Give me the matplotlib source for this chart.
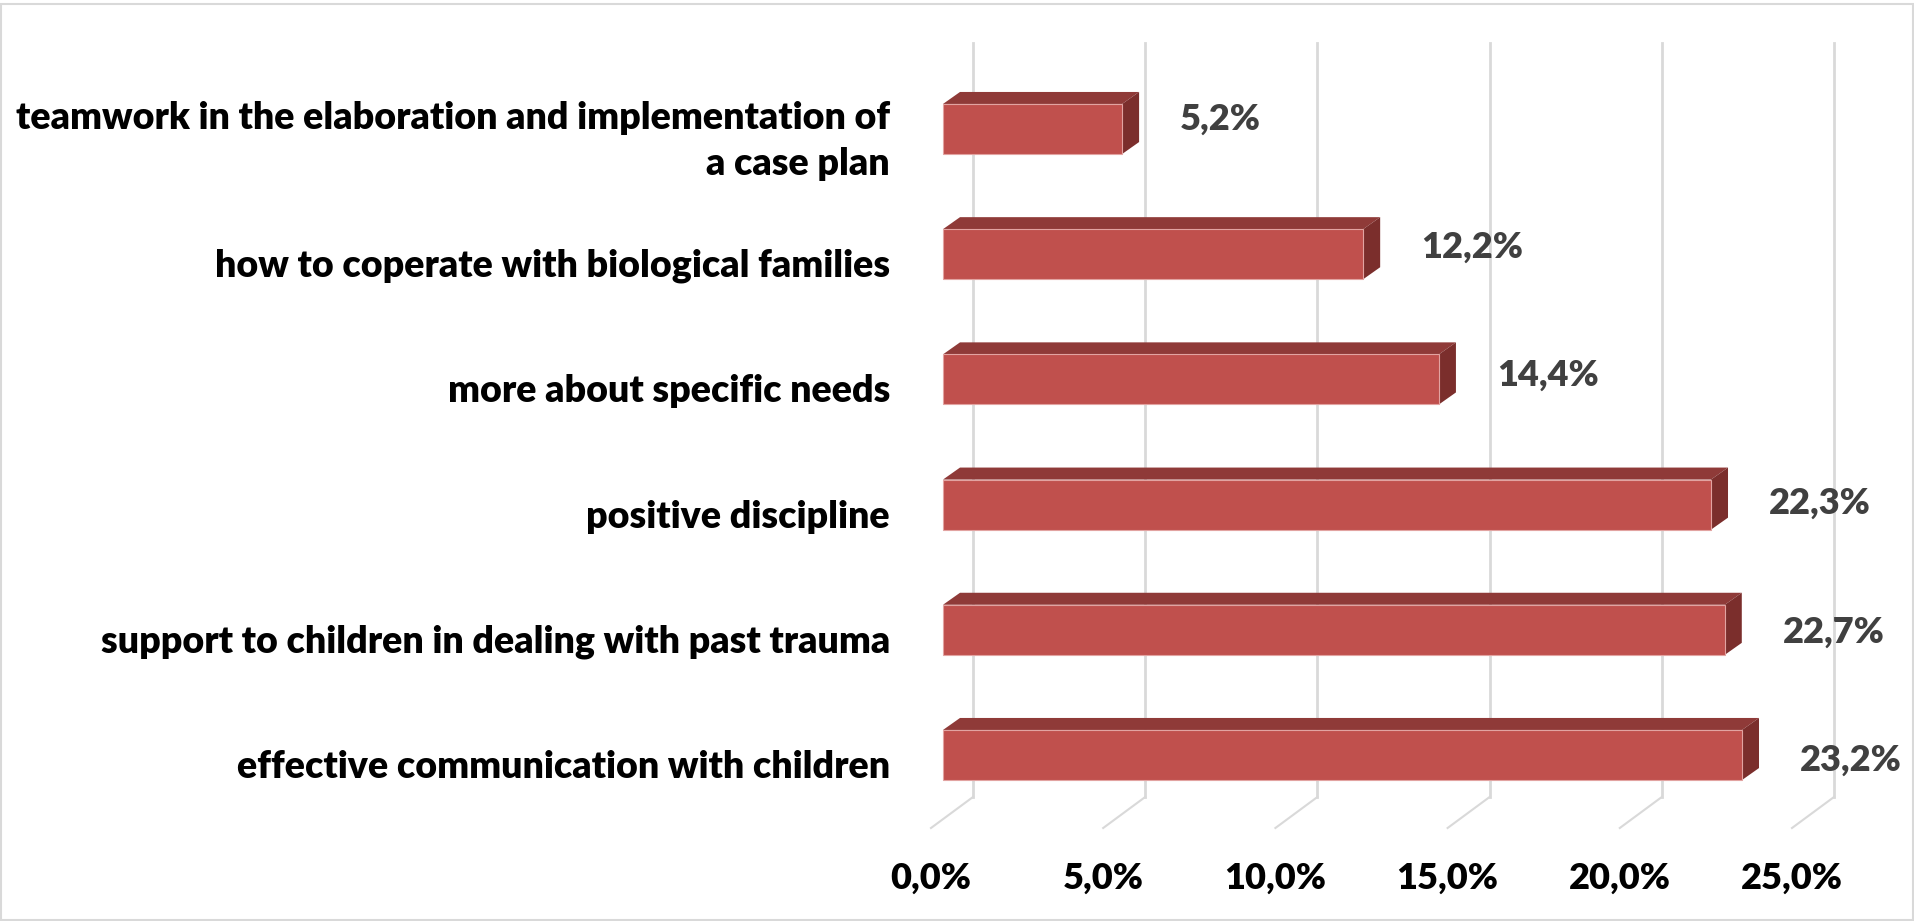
import matplotlib
matplotlib.use("Agg")
import matplotlib.pyplot as plt
from matplotlib.patches import Polygon, Rectangle

plt.rcParams['font.family'] = ['Lato', 'DejaVu Sans']
plt.rcParams['font.weight'] = 'bold'

categories = [
    "teamwork in the elaboration and implementation of\na case plan",
    "how to coperate with biological families",
    "more about specific needs",
    "positive discipline",
    "support to children in dealing with past trauma",
    "effective communication with children",
]
values = [5.2, 12.2, 14.4, 22.3, 22.7, 23.2]
ticks = [0, 5, 10, 15, 20, 25]
tick_labels = ["0,0%", "5,0%", "10,0%", "15,0%", "20,0%", "25,0%"]

W, H = 1915, 921
fig = plt.figure(figsize=(W / 100, H / 100), dpi=100)

# pixel layout of the plotting area (front plane of the bars)
x0_px, px_per_pct = 943, 34.44
y0_px, px_per_row = 129, 125.2
top_px, bot_px = 40, 835
ax = fig.add_axes([x0_px / W, (H - bot_px) / H,
                   25 * px_per_pct / W, (bot_px - top_px) / H])
ax.set_xlim(0, 25)
ax.set_ylim((bot_px - y0_px) / px_per_row, (top_px - y0_px) / px_per_row)
ax.axis('off')

y_floor = (828 - y0_px) / px_per_row
y_wall_top = (43 - y0_px) / px_per_row


def at(x, y, dx=0, dy=0):
    # data point shifted by a screen offset in pixels (dy up)
    d = ax.transData.transform((x, y))
    return ax.transData.inverted().transform((d[0] + dx, d[1] + dy))


grid_c = '#d9d9d9'
# back wall gridlines plus the slanted floor segments
for t in ticks:
    p_front = at(t, y_floor, -12, 0)
    p_back = at(t, y_floor, 30, 31)
    p_top = at(t, y_wall_top, 30, 0)
    ax.plot([p_front[0], p_back[0]], [p_front[1], p_back[1]],
            color=grid_c, lw=1.5, zorder=1, clip_on=False)
    ax.plot([p_back[0], p_top[0]], [p_back[1], p_top[1]],
            color=grid_c, lw=2, zorder=1, clip_on=False)

# 3D bars: front face, top face, right side
bh = 0.4
ddx, ddy = 17, 12
for i, v in enumerate(values):
    top, bot = i - bh / 2, i + bh / 2
    ax.barh(i, v, height=bh, color='#c0504d', edgecolor='#e2a3a1',
            linewidth=0.8, zorder=3, clip_on=False)
    top_face = [at(0, top), at(v, top), at(v, top, ddx, ddy), at(0, top, ddx, ddy)]
    side_face = [at(v, top), at(v, bot), at(v, bot, ddx, ddy), at(v, top, ddx, ddy)]
    ax.add_patch(Polygon(top_face, closed=True, facecolor='#8f3a38',
                         edgecolor='none', zorder=2, clip_on=False))
    ax.add_patch(Polygon(side_face, closed=True, facecolor='#7b2e2c',
                         edgecolor='none', zorder=2, clip_on=False))
    ax.annotate(f"{v:.1f}".replace('.', ',') + '%', xy=(v, i),
                xytext=(58, 10 - 3 * i), textcoords='offset pixels',
                ha='left', va='center', fontsize=26, color='#404040',
                fontweight='heavy', zorder=5, annotation_clip=False)
    ax.annotate(categories[i], xy=(0, i), xytext=(-53, -12),
                textcoords='offset pixels', ha='right', va='center',
                multialignment='right', fontsize=27, color='black',
                fontweight='heavy', linespacing=1.45, annotation_clip=False)

for t, lab in zip(ticks, tick_labels):
    ax.annotate(lab, xy=(t, y_floor), xytext=(-12, -50),
                textcoords='offset pixels', ha='center', va='center',
                fontsize=26, color='black', fontweight='heavy',
                annotation_clip=False)

# chart area border
fig.patches.append(Rectangle((1 / W, 1 / H), (W - 3) / W, (H - 5) / H,
                             transform=fig.transFigure, fill=False,
                             edgecolor='#d9d9d9', linewidth=1.5))

fig.savefig('out.png', dpi=100)
